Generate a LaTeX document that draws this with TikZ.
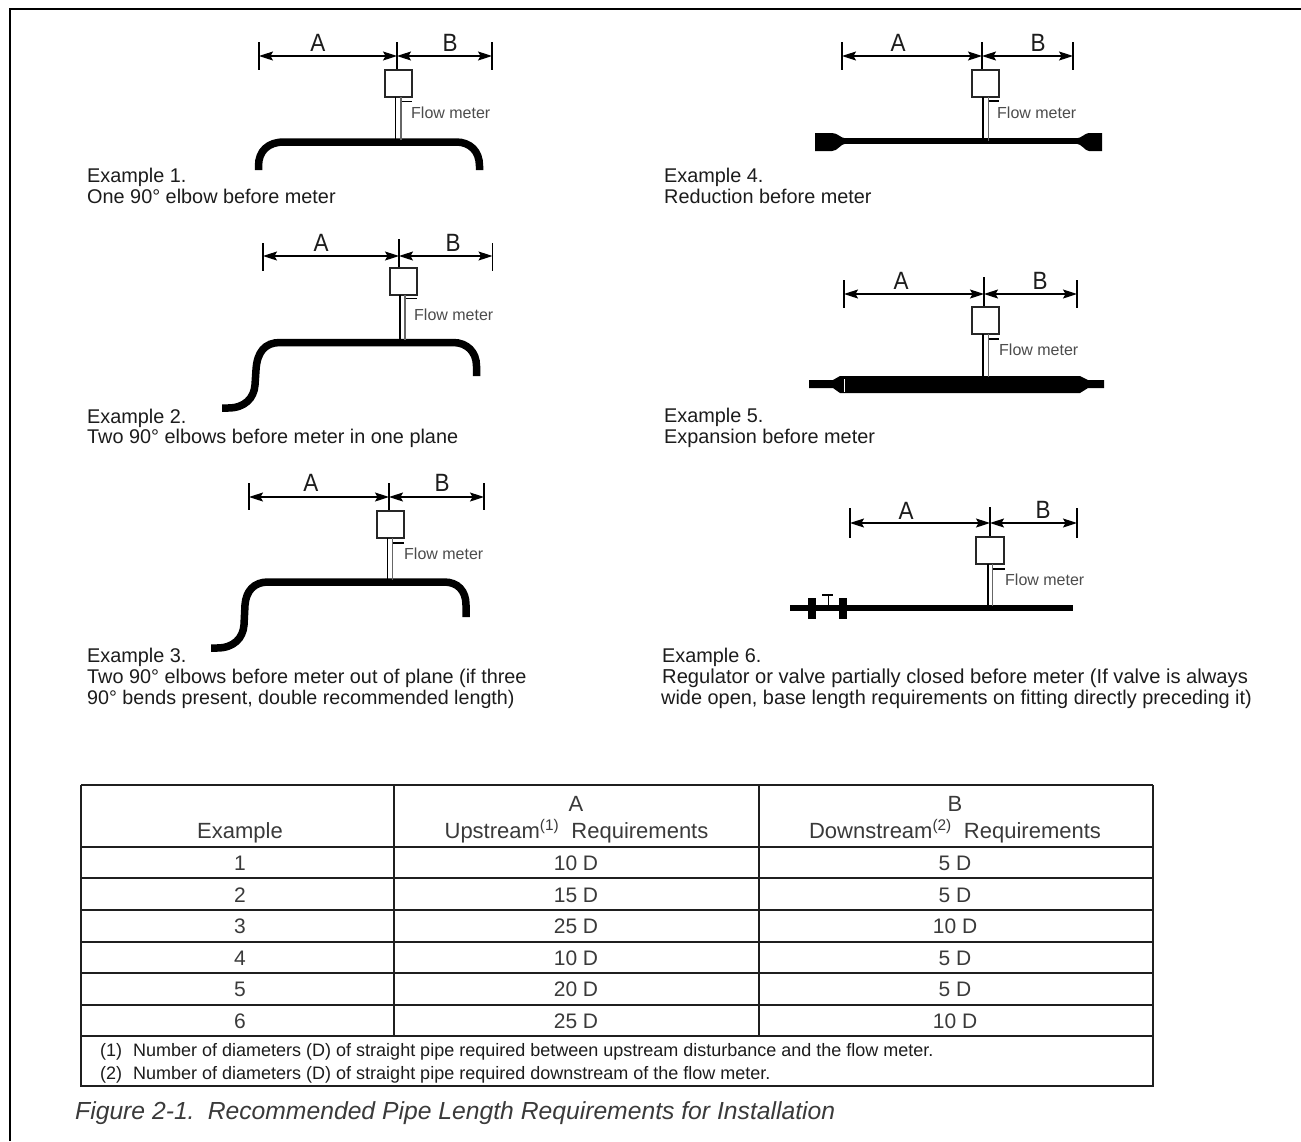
\documentclass[tikz,border=0pt]{standalone}
\usepackage{fontspec}
\setmainfont{Liberation Sans}
\usetikzlibrary{arrows.meta}
\definecolor{ink}{HTML}{1C1C1C}
\definecolor{tabink}{HTML}{3A3A3A}
\tikzset{
  framel/.style={line width=2.2pt,black},
  pipeline/.style={line width=7.5pt,black},
  thinpipe/.style={line width=5.5pt,black},
  tickl/.style={line width=1.3pt,black},
  dimarrow/.style={line width=1.2pt,black,{Stealth[length=14pt,width=9pt,inset=2.5pt]}-{Stealth[length=14pt,width=9pt,inset=2.5pt]}},
  meterbox/.style={draw=black!85,line width=1.5pt,fill=white,inner sep=0pt,rectangle},
  dimlab/.style={font=\fontsize{25}{25}\selectfont,text=ink,inner sep=0pt,anchor=center},
  fmtxt/.style={font=\fontsize{16}{16}\selectfont,text=black!70,inner sep=0pt,anchor=base west},
  captxt/.style={font=\fontsize{19.85}{20}\selectfont,text=ink,inner sep=0pt,anchor=base west},
  gridl/.style={line width=1.5pt,black!88},
  tabt/.style={font=\fontsize{21}{21}\selectfont,text=tabink,inner sep=0pt,anchor=base},
  tabh/.style={font=\fontsize{22}{22}\selectfont,text=tabink,inner sep=0pt,anchor=base},
  notetxt/.style={font=\fontsize{18}{18}\selectfont,text=ink,inner sep=0pt,anchor=base west},
  figcap/.style={font=\fontsize{24.7}{25}\selectfont\itshape,text=tabink,inner sep=0pt,anchor=base west},
}
\newcommand{\dl}[1]{\scalebox{0.9}[1]{#1}}
% #1 prefix, #2 xL, #3 xC, #4 xR, #5 arrow y, #6 tick top, #7 tick bottom, #8 centre tick top
\newcommand{\dimset}[8]{%
  \coordinate (#1L) at (#2,#5); \coordinate (#1C) at (#3,#5); \coordinate (#1R) at (#4,#5);
  \coordinate (#1Lt) at (#2,#6); \coordinate (#1Lb) at (#2,#7);
  \coordinate (#1Rt) at (#4,#6); \coordinate (#1Rb) at (#4,#7);
  \coordinate (#1Ct) at (#3,#8);
  \draw[tickl] (#1Lt) -- (#1Lb);
  \draw[tickl] (#1Rt) -- (#1Rb);
  \draw[dimarrow] (#1L) -- (#1C);
  \draw[dimarrow] (#1C) -- (#1R);
}
% #1 prefix, #2 box left, #3 box top, #4 box right, #5 box bottom, #6 stem left, #7 stem right, #8 pipe y
\newcommand{\meterset}[8]{%
  \coordinate (#1bt) at (0,#3);
  \draw[tickl] (#1Ct) -- (#1C |- #1bt);
  \draw[meterbox] (#2,#3) rectangle (#4,#5);
  \coordinate (#1sa) at (#6,#5); \coordinate (#1sb) at (#6,#8);
  \coordinate (#1sc) at (#7,#5); \coordinate (#1sd) at (#7,#8);
  \draw[line width=1.8pt,black] (#1sa) -- (#1sb);
  \draw[line width=1.6pt,black!60] (#1sc) -- (#1sd);
}
\begin{document}
\begin{tikzpicture}[x=1pt,y=-1pt]
\useasboundingbox (0,0) rectangle (1301,1141);
\fill[white] (0,0) rectangle (1301,1141);
\coordinate (fbl) at (10,1141); \coordinate (ftl) at (10,9); \coordinate (ftr) at (1301,9);
\draw[framel] (fbl) -- (ftl) -- (ftr);

% ---------- Example 1
\draw[pipeline] (258.5,170) -- (258.5,166) .. controls (258.5,151) and (268,142) .. (284,142) -- (456,142) .. controls (470,142) and (479.5,151) .. (479.5,166) -- (479.5,170);
\dimset{a}{259}{397}{492}{56}{42}{70}{42}
\meterset{a}{385}{70}{412}{97}{395.5}{401}{140}
\coordinate (at1) at (402,101.5); \coordinate (at2) at (412,101.5); \draw[tickl] (at1) -- (at2);
\node[dimlab] (aA) at (318,43) {\dl{A}};
\node[dimlab] (aB) at (450,43) {\dl{B}};
\node[fmtxt] (aF) at (411,118.5) {Flow meter};
\node[captxt] (c1a) at (87,182) {Example 1.};
\node[captxt] (c1b) at (87,203) {One 90° elbow before meter};

% ---------- Example 2
\draw[pipeline] (222,408) -- (228,408) .. controls (245,408) and (254,398) .. (255,385) -- (256,370) .. controls (257,352) and (265,342.5) .. (280,342.5) -- (453,342.5) .. controls (467,342.5) and (476.5,352) .. (476.5,366) -- (476.5,376);
\dimset{b}{263}{399}{492.5}{256}{243}{271}{239}
\meterset{b}{390}{268}{417}{295}{400}{405}{340}
\coordinate (bt1) at (406,298.5); \coordinate (bt2) at (417,298.5); \draw[tickl] (bt1) -- (bt2);
\node[dimlab] (bA) at (321,243) {\dl{A}};
\node[dimlab] (bB) at (453,243) {\dl{B}};
\node[fmtxt] (bF) at (414,320.5) {Flow meter};
\node[captxt] (c2a) at (87,423) {Example 2.};
\node[captxt] (c2b) at (87,443) {Two 90° elbows before meter in one plane};

% ---------- Example 3
\draw[pipeline] (211,648) -- (217,648) .. controls (234,648) and (243,638) .. (244,625) -- (245,605) .. controls (246,591) and (254,582) .. (268,582) -- (444,582) .. controls (458,582) and (466,591) .. (466,605) -- (466,617);
\dimset{c}{249}{389}{484}{497}{483}{510}{483}
\meterset{c}{377}{511}{404}{538}{387.5}{392.5}{580}
\coordinate (ct1) at (393,543); \coordinate (ct2) at (404,543); \draw[tickl] (ct1) -- (ct2);
\node[dimlab] (cA) at (311,483) {\dl{A}};
\node[dimlab] (cB) at (442,483) {\dl{B}};
\node[fmtxt] (cF) at (404,559.5) {Flow meter};
\node[captxt] (c3a) at (87,662) {Example 3.};
\node[captxt] (c3b) at (87,683) {Two 90° elbows before meter out of plane (if three};
\node[captxt,font=\fontsize{19.7}{20}\selectfont] (c3c) at (87,704) {90° bends present, double recommended length)};

% ---------- Example 4
\draw[thinpipe] (835,141) -- (1085,141);
\fill[black] (815,133) -- (832,133) .. controls (838,133) and (840,138) .. (846,138.5) -- (846,143.5) .. controls (840,144) and (838,151) .. (832,151) -- (815,151) -- cycle;
\fill[black] (1102,133) -- (1089,133) .. controls (1085,133) and (1082,138) .. (1076,138.5) -- (1076,143.5) .. controls (1082,144) and (1085,151) .. (1089,151) -- (1102,151) -- cycle;
\dimset{d}{842}{982}{1073}{56}{42}{70}{42}
\meterset{d}{972}{70}{999}{97}{983}{988.5}{141}
\coordinate (dt1) at (989,101); \coordinate (dt2) at (999,101); \draw[tickl] (dt1) -- (dt2);
\node[dimlab] (dA) at (898,43) {\dl{A}};
\node[dimlab] (dB) at (1038,43) {\dl{B}};
\node[fmtxt] (dF) at (997,118.5) {Flow meter};
\node[captxt] (c4a) at (664,182) {Example 4.};
\node[captxt] (c4b) at (664,203) {Reduction before meter};

% ---------- Example 5
\fill[black] (809,380) -- (833,380) -- (840,376) -- (1080,376) -- (1088,380) -- (1104,380) -- (1104,388) -- (1088,388) -- (1080,393) -- (840,393) -- (833,388) -- (809,388) -- cycle;
\coordinate (ew1) at (844,379); \coordinate (ew2) at (844,392); \draw[line width=.8pt,white] (ew1) -- (ew2);
\dimset{e}{844}{984}{1077}{294}{280}{308}{277}
\meterset{e}{972}{307}{999}{334}{983}{988.5}{377}
\coordinate (et1) at (989,339); \coordinate (et2) at (999,339); \draw[tickl] (et1) -- (et2);
\node[dimlab] (eA) at (901,281) {\dl{A}};
\node[dimlab] (eB) at (1040,281) {\dl{B}};
\node[fmtxt] (eF) at (999,355.5) {Flow meter};
\node[captxt] (c5a) at (664,422) {Example 5.};
\node[captxt] (c5b) at (664,443) {Expansion before meter};

% ---------- Example 6
\coordinate (fp1) at (790,608); \coordinate (fp2) at (1073,608);
\draw[thinpipe,line width=6pt] (fp1) -- (fp2);
\fill[black] (808,598) rectangle (816,619);
\fill[black] (839,598) rectangle (847,619);
\coordinate (fv1) at (828,595); \coordinate (fv2) at (828,606);
\coordinate (fv3) at (822,595); \coordinate (fv4) at (833,595);
\draw[line width=1pt,black] (fv1) -- (fv2);
\draw[line width=1.3pt,black] (fv3) -- (fv4);
\dimset{f}{850}{990}{1077}{523}{508}{538}{507}
\meterset{f}{976}{537}{1004}{564}{988}{992.5}{606}
\coordinate (ft1) at (993,569); \coordinate (ft2) at (1005,569); \draw[tickl] (ft1) -- (ft2);
\node[dimlab] (fA) at (906,511) {\dl{A}};
\node[dimlab] (fB) at (1043,510) {\dl{B}};
\node[fmtxt] (fF) at (1005,585.5) {Flow meter};
\node[captxt] (c6a) at (662,662) {Example 6.};
\node[captxt,font=\fontsize{20.15}{20}\selectfont] (c6b) at (662,683) {Regulator or valve partially closed before meter (If valve is always};
\node[captxt,font=\fontsize{19.9}{20}\selectfont] (c6c) at (661,704) {wide open, base length requirements on fitting directly preceding it)};

% ---------- Table
\foreach \yy in {785,847,878,910,942,973,1005,1036,1086}{
  \draw[gridl] (81,\yy) -- (1153,\yy);
}
\draw[gridl] (81,785) -- (81,1087);
\draw[gridl] (1153,785) -- (1153,1087);
\draw[gridl] (394,785) -- (394,1036);
\draw[gridl] (759,785) -- (759,1036);

\node[tabh] (hA) at (576,811) {A};
\node[tabh] (hB) at (955,811) {B};
\node[tabh] (h0) at (240,838) {Example};
\node[tabh] (h1) at (576.5,838) {Upstream\textsuperscript{(1)}\hspace{6pt} Requirements};
\node[tabh] (h2) at (955,838) {Downstream\textsuperscript{(2)}\hspace{6pt} Requirements};
\node[tabt] (r1a) at (240,870) {1}; \node[tabt] (r1b) at (576,870) {10 D}; \node[tabt] (r1c) at (955,870) {5 D};
\node[tabt] (r2a) at (240,902) {2}; \node[tabt] (r2b) at (576,902) {15 D}; \node[tabt] (r2c) at (955,902) {5 D};
\node[tabt] (r3a) at (240,933) {3}; \node[tabt] (r3b) at (576,933) {25 D}; \node[tabt] (r3c) at (955,933) {10 D};
\node[tabt] (r4a) at (240,965) {4}; \node[tabt] (r4b) at (576,965) {10 D}; \node[tabt] (r4c) at (955,965) {5 D};
\node[tabt] (r5a) at (240,996) {5}; \node[tabt] (r5b) at (576,996) {20 D}; \node[tabt] (r5c) at (955,996) {5 D};
\node[tabt] (r6a) at (240,1028) {6}; \node[tabt] (r6b) at (576,1028) {25 D}; \node[tabt] (r6c) at (955,1028) {10 D};
\node[notetxt] (n1a) at (100,1056) {(1)};
\node[notetxt] (n1b) at (133,1056) {Number of diameters (D) of straight pipe required between upstream disturbance and the flow meter.};
\node[notetxt] (n2a) at (100,1079) {(2)};
\node[notetxt] (n2b) at (133,1079) {Number of diameters (D) of straight pipe required downstream of the flow meter.};
\node[figcap] (fc) at (75,1119) {Figure 2-1.\hspace{4pt} Recommended Pipe Length Requirements for Installation};
\end{tikzpicture}
\end{document}
